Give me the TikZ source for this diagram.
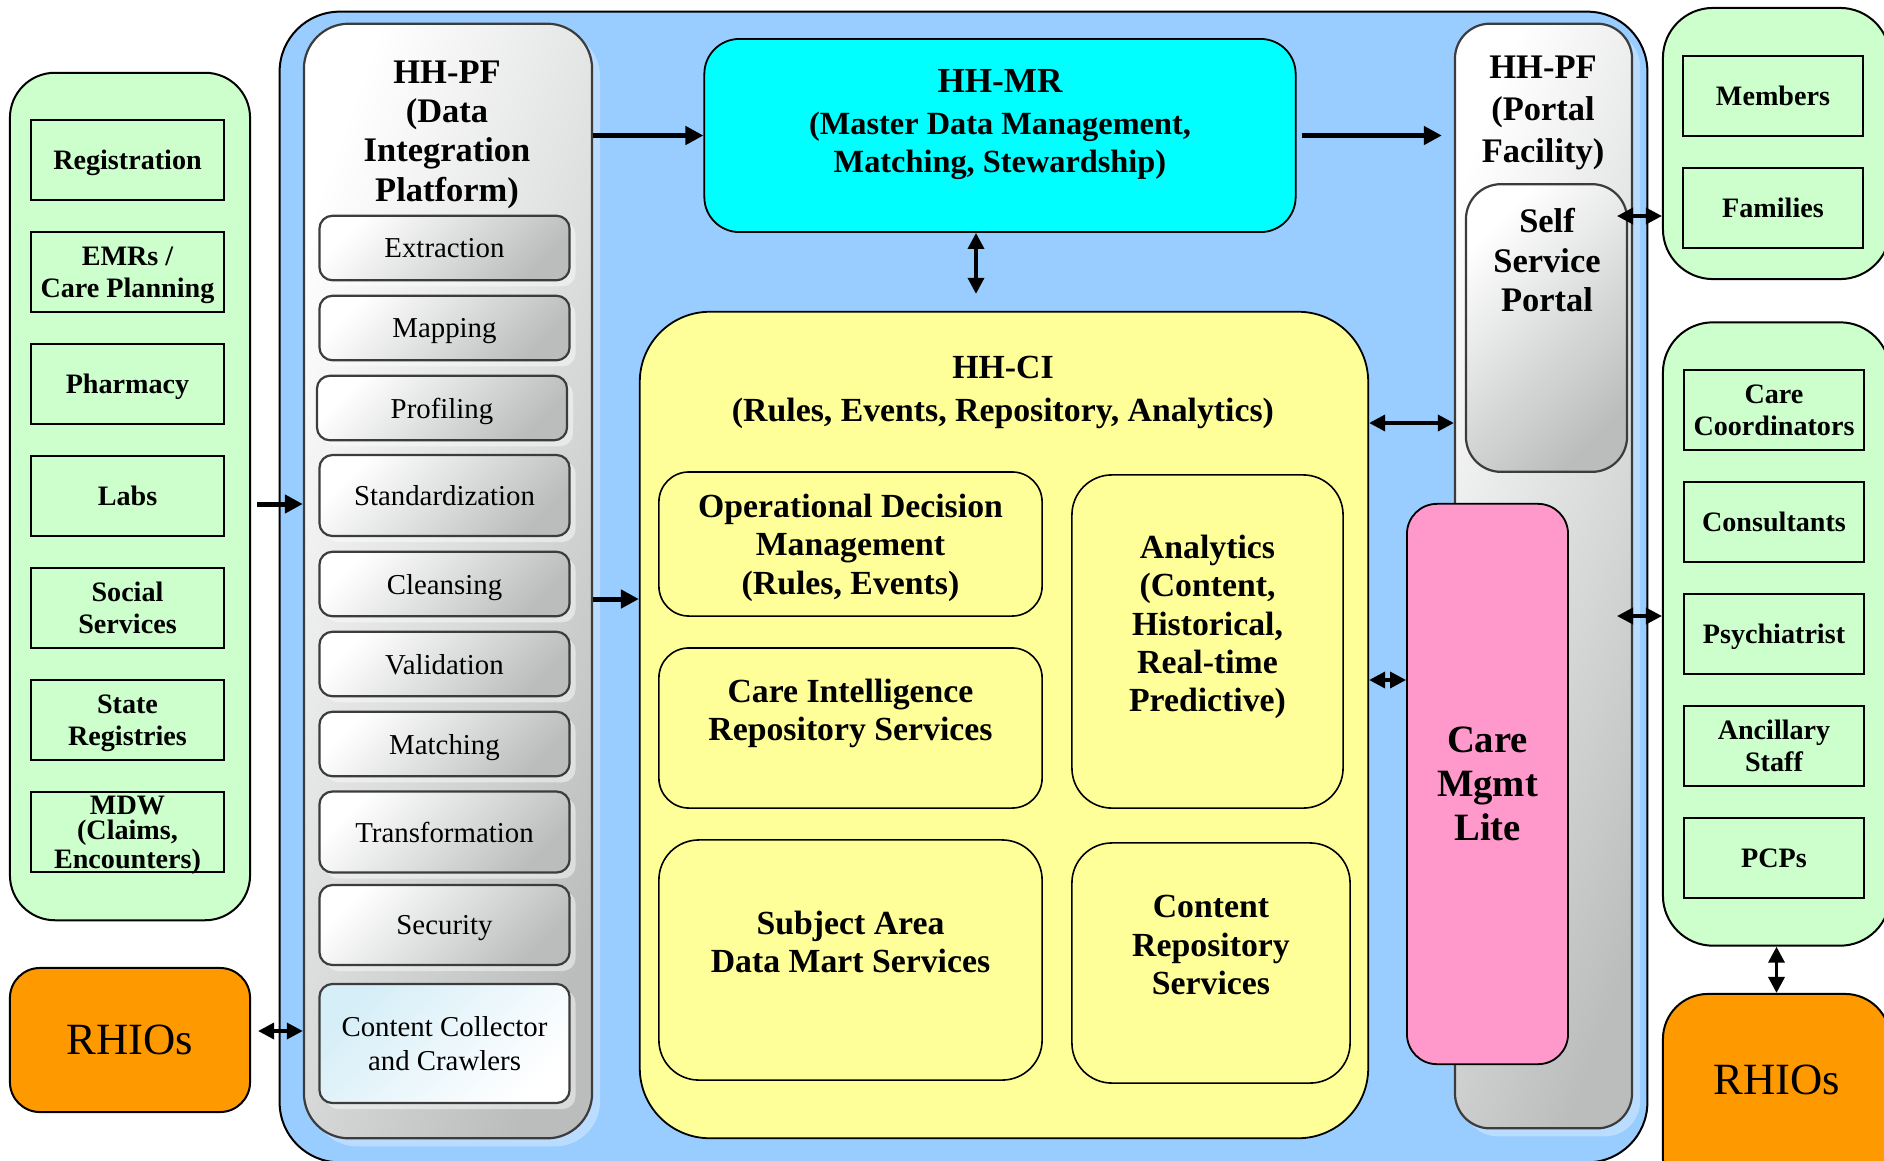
\documentclass[tikz,border=0pt]{standalone}
\usepackage{fontspec}
\setmainfont{Liberation Serif}
\usetikzlibrary{arrows.meta,shadows,calc}
\definecolor{hhblue}{HTML}{99CCFF}
\definecolor{hhgreen}{HTML}{CCFFCC}
\definecolor{hhorange}{HTML}{FF9900}
\definecolor{hhcyan}{HTML}{00FFFF}
\definecolor{hhyellow}{HTML}{FFFF99}
\definecolor{hhpink}{HTML}{FF99CC}
\definecolor{hhgray}{HTML}{BBBDBD}
\definecolor{hhedge}{HTML}{3C3C3C}
\definecolor{hhglow}{HTML}{B9DCFF}
\definecolor{hhice}{HTML}{D6EEF7}
\begin{document}
\begin{tikzpicture}[x=0.01cm,y=-0.01cm,
panel/.style={draw=black,line width=0.02cm,fill=hhgreen,rounded corners=0.45cm},
actor/.style={draw=black,line width=0.018cm,fill=hhgreen,minimum width=1.93cm,minimum height=0.8cm,align=center,font=\fontsize{8}{9.2}\selectfont\bfseries},
rhio/.style={draw=black,line width=0.02cm,fill=hhorange,rounded corners=0.3cm,font=\fontsize{12.7}{14}\selectfont},
column/.style={draw=hhedge,line width=0.022cm,left color=white,right color=hhgray,shading angle=70,drop shadow={shadow xshift=0.08cm,shadow yshift=-0.08cm,fill=hhglow,opacity=1}},
pfstage/.style={draw=hhedge,line width=0.022cm,rounded corners=0.13cm,top color=white,bottom color=hhgray,shading angle=45,minimum width=2.5cm,minimum height=0.645cm,align=center,font=\fontsize{8.2}{9.4}\selectfont,drop shadow={shadow xshift=0.06cm,shadow yshift=-0.06cm,fill=white,opacity=0.45}},
headtxt/.style={align=center,font=\fontsize{9.8}{11.2}\selectfont\bfseries},
cisvc/.style={draw=black,line width=0.016cm,fill=hhyellow,rounded corners=0.3cm,align=center,font=\fontsize{9.6}{10.9}\selectfont\bfseries},
lifted/.style={text depth=0.36cm},
flow/.style={-{Triangle[length=0.18cm,width=0.18cm]},line width=0.05cm},
biflow/.style={{Triangle[length=0.16cm,width=0.16cm]}-{Triangle[length=0.16cm,width=0.16cm]},line width=0.035cm}]
\useasboundingbox (0,0) rectangle (1884,1160);
\clip (0,0) rectangle (1884,1160);
\tikzstyle{every node}+=[inner sep=0pt,text depth=0pt]
\node[panel,minimum width=2.4cm,minimum height=8.47cm] (sources) at (130,496.5) {};
\node[actor] (reg) at (127.5,160) {Registration};
\node[actor] (emr) at (127.5,272) {EMRs /\\Care Planning};
\node[actor] (pharm) at (127.5,384) {Pharmacy};
\node[actor] (labs) at (127.5,496) {Labs};
\node[actor] (social) at (127.5,608) {Social\\Services};
\node[actor] (state) at (127.5,720) {State\\Registries};
\node[actor,font=\fontsize{8}{7}\selectfont\bfseries] (mdw) at (127.5,832) {MDW\\(Claims,\\Encounters)};
\node[rhio,minimum width=2.4cm,minimum height=1.44cm] (rhiosl) at (130,1040) {RHIOs};
\node[draw=black,line width=0.02cm,fill=hhblue,rounded corners=0.6cm,minimum width=13.67cm,minimum height=11.5cm] (hub) at (963.5,587) {};
\node[column,rounded corners=0.45cm,minimum width=2.88cm,minimum height=11.14cm] (dip) at (448,581) {};
\node[headtxt] (diptitle) at (447,131) {HH-PF\\(Data\\Integration\\Platform)};
\node[pfstage] (extract) at (444.5,248) {Extraction};
\node[pfstage] (mapping) at (444.5,328) {Mapping};
\node[pfstage] (profiling) at (442,408) {Profiling};
\node[pfstage,minimum height=0.81cm] (standard) at (444.5,495.5) {Standardization};
\node[pfstage] (cleansing) at (444.5,584) {Cleansing};
\node[pfstage] (validation) at (444.5,664) {Validation};
\node[pfstage] (matching) at (444.5,744) {Matching};
\node[pfstage,minimum height=0.81cm] (transform) at (444.5,832) {Transformation};
\node[pfstage,minimum height=0.8cm] (security) at (444.5,925) {Security};
\node[pfstage,minimum height=1.19cm,top color=hhice,bottom color=white,shading angle=45] (collector) at (444.5,1043.5) {Content Collector\\and Crawlers};
\node[draw=black,line width=0.018cm,fill=hhcyan,rounded corners=0.35cm,minimum width=5.91cm,minimum height=1.93cm] (mr) at (1000,135.5) {};
\node[align=center,font=\fontsize{9.2}{10.8}\selectfont\bfseries] (mrtxt) at (1000,121) {{\fontsize{10}{11}\selectfont HH-MR}\\[1pt](Master Data Management,\\Matching, Stewardship)};
\node[draw=black,line width=0.018cm,fill=hhyellow,rounded corners=0.7cm,minimum width=7.28cm,minimum height=8.26cm] (ci) at (1004,725) {};
\node[headtxt,font=\fontsize{9.6}{12.2}\selectfont\bfseries] (cihead) at (1003,389) {HH-CI\\(Rules, Events, Repository, Analytics)};
\node[cisvc,minimum width=3.83cm,minimum height=1.44cm] (odm) at (850.5,544) {Operational Decision\\Management\\(Rules, Events)};
\node[cisvc,lifted,minimum width=3.83cm,minimum height=1.6cm] (cirs) at (850.5,728) {Care Intelligence\\Repository Services};
\node[cisvc,lifted,rounded corners=0.4cm,minimum width=3.83cm,minimum height=2.4cm] (sadm) at (850.5,960) {Subject Area\\Data Mart Services};
\node[cisvc,lifted,rounded corners=0.4cm,minimum width=2.71cm,minimum height=3.33cm] (analytics) at (1207.5,641.5) {Analytics\\(Content,\\Historical,\\Real-time\\Predictive)};
\node[cisvc,lifted,rounded corners=0.4cm,minimum width=2.78cm,minimum height=2.4cm] (crs) at (1211,963) {Content\\Repository\\Services};
\node[column,rounded corners=0.35cm,minimum width=1.77cm,minimum height=11.04cm] (portal) at (1543.5,576) {};
\node[headtxt,font=\fontsize{9.8}{12}\selectfont\bfseries] (portaltitle) at (1543,109) {HH-PF\\(Portal\\Facility)};
\node[draw=hhedge,line width=0.022cm,rounded corners=0.35cm,top color=white,bottom color=hhgray,shading angle=45,minimum width=1.61cm,minimum height=2.875cm] (ssp) at (1546.5,328) {};
\node[headtxt] (ssptxt) at (1547,260) {Self\\Service\\Portal};
\node[draw=black,line width=0.018cm,fill=hhpink,rounded corners=0.3cm,minimum width=1.61cm,minimum height=5.6cm,align=center,font=\fontsize{11}{12.5}\selectfont\bfseries] (cml) at (1487.5,784) {Care\\Mgmt\\Lite};
\node[panel,rounded corners=0.5cm,minimum width=2.27cm,minimum height=2.71cm] (users) at (1776.5,143.5) {};
\node[actor,minimum width=1.8cm] (members) at (1773,96) {Members};
\node[actor,minimum width=1.8cm] (families) at (1773,208) {Families};
\node[panel,rounded corners=0.5cm,minimum width=2.27cm,minimum height=6.23cm] (clinicians) at (1776.5,634) {};
\node[actor,minimum width=1.8cm] (carecoord) at (1774,410) {Care\\Coordinators};
\node[actor,minimum width=1.8cm] (consult) at (1774,522) {Consultants};
\node[actor,minimum width=1.8cm] (psych) at (1774,634) {Psychiatrist};
\node[actor,minimum width=1.8cm] (ancillary) at (1774,746) {Ancillary\\Staff};
\node[actor,minimum width=1.8cm] (pcps) at (1774,858) {PCPs};
\node[rhio,rounded corners=0.45cm,minimum width=2.27cm,minimum height=2.1cm] (rhiosr) at (1776.5,1099) {};
\node[font=\fontsize{12.7}{14}\selectfont] (rhiosrtxt) at (1777,1080) {RHIOs};
\coordinate (pfci) at (600,599);
\coordinate (ciportal) at (1400,423);
\coordinate (cicml) at (1385,680);
\coordinate (sspusers) at (1617,216);
\coordinate (portalclin) at (1617,616);
\draw[flow,shorten <=0.06cm] ($(sources.east |- labs)+(0,8)$) -- ($(dip.west |- labs)+(0,8)$);
\draw[biflow,shorten <=0.07cm] ($(rhiosl.east)+(0,-9)$) -- ($(dip.west |- rhiosl)+(0,-9)$);
\draw[flow] (dip.east |- mr) -- (mr.west);
\draw[flow,shorten <=0.05cm,shorten >=0.12cm] (mr.east) -- (portal.west |- mr);
\draw[biflow,shorten >=0.17cm] ($(mr.south)+(-24,0)$) -- ($(mr.south |- ci.north)+(-24,0)$);
\draw[flow] (dip.east |- pfci) -- (ci.west |- pfci);
\draw[biflow] (ci.east |- ciportal) -- (portal.west |- ciportal);
\draw[biflow] (ci.east |- cicml) -- (cml.west |- cicml);
\draw[biflow] (sspusers) -- (users.west |- sspusers);
\draw[biflow] (portalclin) -- (clinicians.west |- portalclin);
\draw[biflow] (clinicians.south) -- (rhiosr.north);
\end{tikzpicture}
\end{document}
